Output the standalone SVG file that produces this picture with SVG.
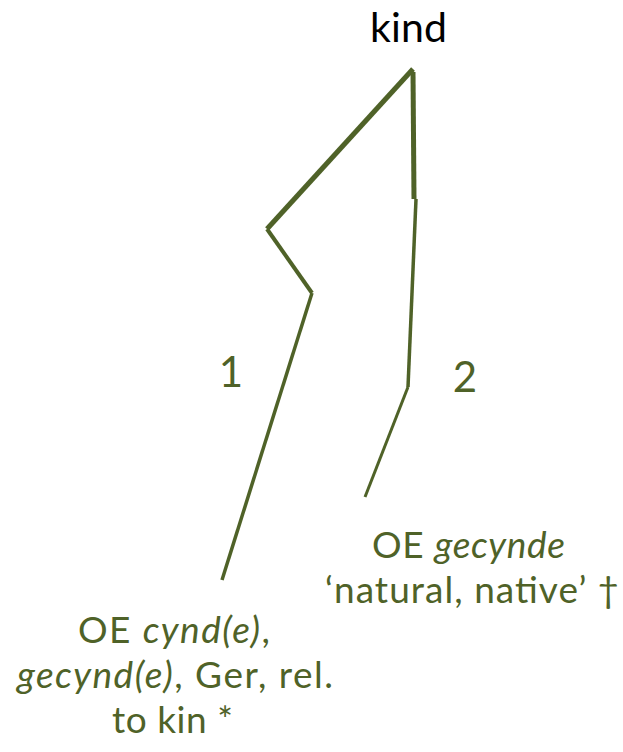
<svg xmlns="http://www.w3.org/2000/svg" width="623" height="752" viewBox="0 0 623 752">
<style>
.t{font-family:Lato,"Liberation Sans",sans-serif;fill:#4f6228;text-anchor:middle;font-size:37px}
.i{font-style:italic}
.c line{stroke:#4f6228;stroke-linecap:butt}
</style>
<rect width="623" height="752" fill="#fff"/>
<g id="connectors" class="c">
<line x1="413" y1="69" x2="267" y2="229" stroke-width="5"/>
<line x1="267" y1="229" x2="312" y2="293" stroke-width="4"/>
<line x1="312" y1="293" x2="222" y2="580" stroke-width="3.5"/>
<line x1="413" y1="72" x2="414" y2="199" stroke-width="5"/>
<line x1="416" y1="199" x2="408" y2="387" stroke-width="3.5"/>
<line x1="408" y1="387" x2="365" y2="497" stroke-width="3"/>
</g>
<g id="kind"><text x="408.5" y="42" class="t" style="fill:#000;font-size:41px" textLength="77">kind</text></g>
<g id="label1"><text x="231" y="387" class="t" style="font-size:42px">1</text></g>
<g id="label2"><text x="465" y="392" class="t" style="font-size:42px">2</text></g>
<g id="sense2">
<text x="468.5" y="558" class="t" textLength="193">OE <tspan class="i">gecynde</tspan></text>
<text x="472" y="603" class="t" textLength="294">‘natural, native’ †</text>
</g>
<g id="sense1">
<text x="174" y="643" class="t" textLength="192">OE <tspan class="i">cynd(e)</tspan>,</text>
<text x="175" y="688" class="t" textLength="316"><tspan class="i">gecynd(e)</tspan>, Ger, rel.</text>
<text x="172.5" y="733" class="t" textLength="121">to kin *</text>
</g>
</svg>
